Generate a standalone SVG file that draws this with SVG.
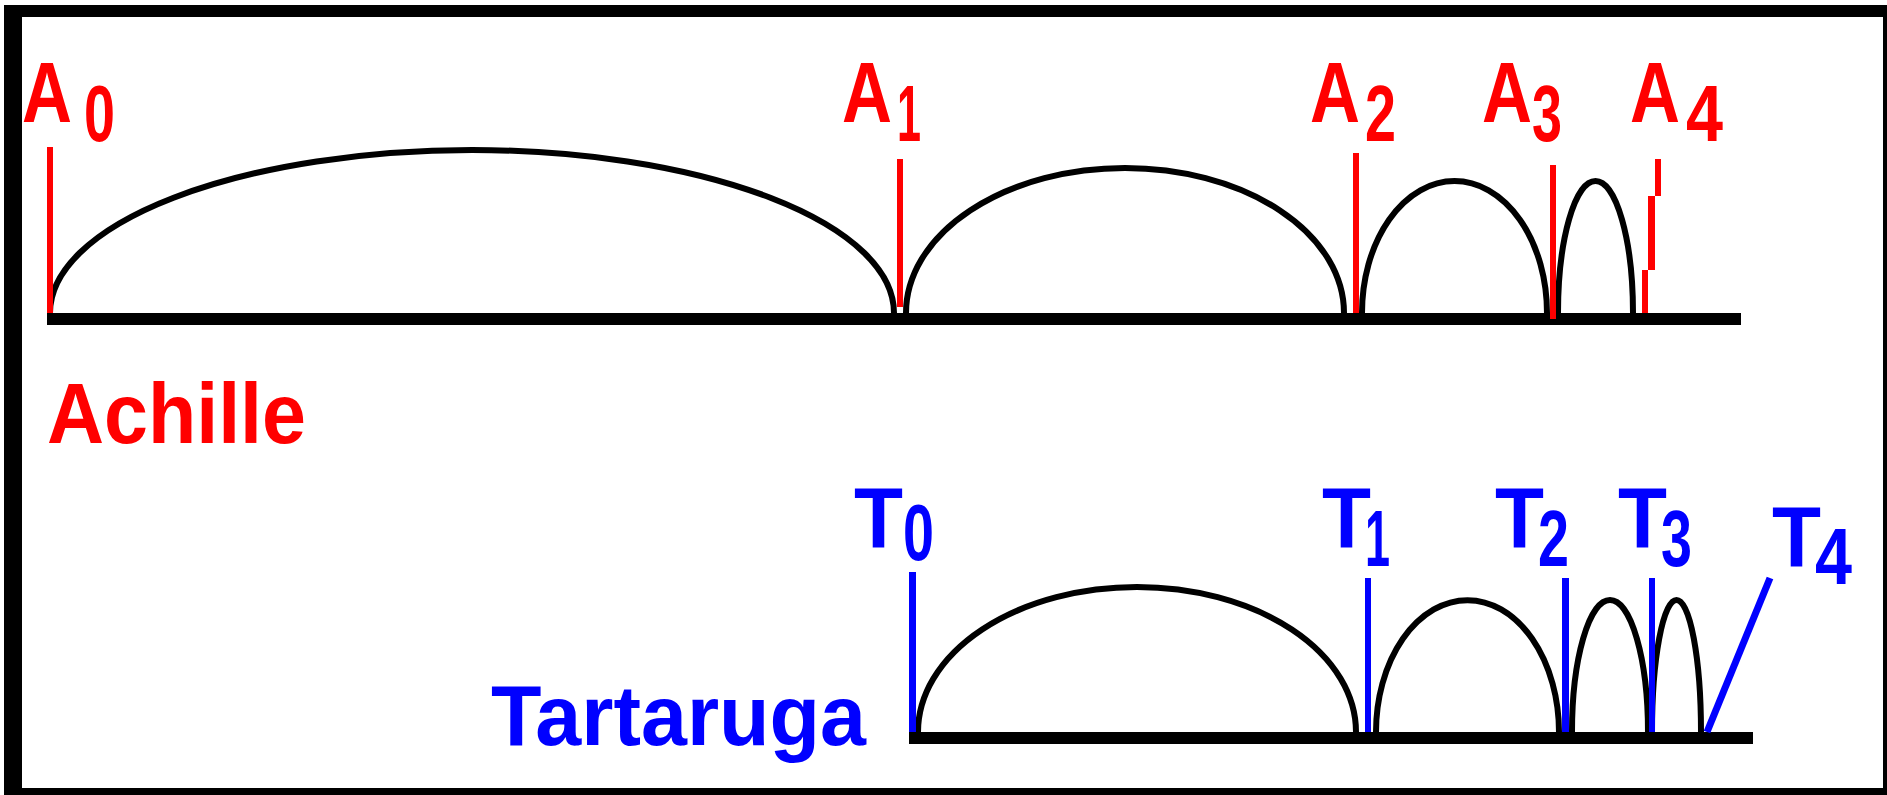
<svg xmlns="http://www.w3.org/2000/svg" width="1887" height="795" viewBox="0 0 1887 795">
<style>
.arc{fill:none;stroke:#000;stroke-width:6}
.red{fill:#ff0000}
.blue{fill:#0000ff}
.big{font-family:"Liberation Sans",Arial,sans-serif;font-weight:bold;font-size:86px}
.sub{font-family:"Liberation Sans",Arial,sans-serif;font-weight:bold;font-size:79px}
</style>
<rect width="1887" height="795" fill="#fff"/>
<path id="frame" d="M4 5H1887V795H4Z M22 17V788H1883V17Z" fill="#000" fill-rule="evenodd"/>
<g id="axes" fill="#000">
<rect x="47" y="313" width="1694" height="12"/>
<rect x="909" y="732" width="844" height="12"/>
</g>
<g id="connectors">
<path class="arc" d="M50 313 A422 163 0 0 1 894 313"/>
<path class="arc" d="M906 313 A219 145 0 0 1 1344 313"/>
<path class="arc" d="M1362 313 A92.5 132 0 0 1 1547 313"/>
<path class="arc" d="M1558 313 A37.5 132 0 0 1 1633 313"/>
<path class="arc" d="M918 732 A219 145 0 0 1 1356 732"/>
<path class="arc" d="M1376 732 A91.5 132 0 0 1 1559 732"/>
<path class="arc" d="M1572 732 A38 132 0 0 1 1648 732"/>
<path class="arc" d="M1652 732 A24.5 132 0 0 1 1701 732"/>
</g>
<g id="achille-marks" class="red">
<rect x="47" y="147" width="6" height="166"/>
<rect x="897" y="159" width="6" height="148"/>
<rect x="1353" y="153" width="6" height="160"/>
<rect x="1550" y="165" width="6" height="154"/>
<rect x="1642" y="270" width="6" height="43"/>
<rect x="1648" y="196" width="7" height="74"/>
<rect x="1655" y="159" width="6" height="37"/>
</g>
<g id="tartaruga-marks" class="blue">
<rect x="909" y="572" width="7" height="160"/>
<rect x="1365" y="578" width="6" height="154"/>
<rect x="1562" y="578" width="7" height="154"/>
<rect x="1649" y="578" width="6" height="154"/>
<line x1="1707" y1="732" x2="1770" y2="578" stroke="#0000ff" stroke-width="7"/>
</g>
<g id="achille-labels" class="red">
<g id="A0"><text class="big" x="22" y="122" textLength="50" lengthAdjust="spacingAndGlyphs">A</text><text class="sub" x="84" y="141" textLength="31" lengthAdjust="spacingAndGlyphs">0</text></g>
<g id="A1"><text class="big" x="842" y="122" textLength="50" lengthAdjust="spacingAndGlyphs">A</text><text class="sub" x="897" y="141" textLength="24" lengthAdjust="spacingAndGlyphs">1</text></g>
<g id="A2"><text class="big" x="1310" y="122" textLength="50" lengthAdjust="spacingAndGlyphs">A</text><text class="sub" x="1365" y="141" textLength="31" lengthAdjust="spacingAndGlyphs">2</text></g>
<g id="A3"><text class="big" x="1482" y="122" textLength="50" lengthAdjust="spacingAndGlyphs">A</text><text class="sub" x="1532" y="141" textLength="30" lengthAdjust="spacingAndGlyphs">3</text></g>
<g id="A4"><text class="big" x="1630" y="122" textLength="50" lengthAdjust="spacingAndGlyphs">A</text><text class="sub" x="1686" y="141" textLength="37" lengthAdjust="spacingAndGlyphs">4</text></g>
<text id="achille" class="big" x="47" y="443" textLength="259" lengthAdjust="spacingAndGlyphs">Achille</text>
</g>
<g id="tartaruga-labels" class="blue">
<g id="T0"><text class="big" x="854" y="547" textLength="49" lengthAdjust="spacingAndGlyphs">T</text><text class="sub" x="903" y="560" textLength="31" lengthAdjust="spacingAndGlyphs">0</text></g>
<g id="T1"><text class="big" x="1322" y="547" textLength="49" lengthAdjust="spacingAndGlyphs">T</text><text class="sub" x="1365" y="566" textLength="25" lengthAdjust="spacingAndGlyphs">1</text></g>
<g id="T2"><text class="big" x="1495" y="547" textLength="49" lengthAdjust="spacingAndGlyphs">T</text><text class="sub" x="1538" y="566" textLength="31" lengthAdjust="spacingAndGlyphs">2</text></g>
<g id="T3"><text class="big" x="1618" y="547" textLength="49" lengthAdjust="spacingAndGlyphs">T</text><text class="sub" x="1661" y="566" textLength="31" lengthAdjust="spacingAndGlyphs">3</text></g>
<g id="T4"><text class="big" x="1772" y="566" textLength="49" lengthAdjust="spacingAndGlyphs">T</text><text class="sub" x="1815" y="584" textLength="37" lengthAdjust="spacingAndGlyphs">4</text></g>
<text id="tartaruga" class="big" x="491" y="745" textLength="375" lengthAdjust="spacingAndGlyphs">Tartaruga</text>
</g>
</svg>
